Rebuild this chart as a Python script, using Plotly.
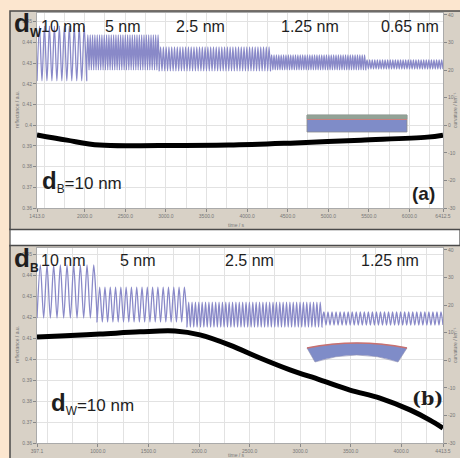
import numpy as np
import plotly.graph_objects as go

W, H = 460, 458
def fx(p): return p / W
def fy(p): return 1 - p / H

# ---------------- data: panel (a) ----------------
a_seg_labels = ["10 nm", "5 nm", "2.5 nm", "1.25 nm", "0.65 nm"]
a_seg_start = [1413.0, 2025.0, 2918.0, 4288.0, 5462.0]
a_seg_end = [2025.0, 2918.0, 4288.0, 5462.0, 6412.5]
a_seg_cycles = [10, 31, 40, 40, 30]
a_seg_top = [0.4479, 0.4436, 0.4378, 0.4339, 0.4315]
a_seg_bottom = [0.4214, 0.4267, 0.4262, 0.4267, 0.4271]

a_curv_time = [1413, 1780, 2184, 2918, 3774, 4593, 5401, 6220, 6412.5]
a_curv_val = [-3.5, -5.4, -7.2, -7.35, -7.2, -6.4, -5.4, -4.3, -3.6]

a_xtick_vals = [1413.0, 2000, 2500, 3000, 3500, 4000, 4500, 5000, 5500, 6000, 6412.5]
a_xtick_text = ["1413.0", "2000.0", "2500.0", "3000.0", "3500.0", "4000.0",
                "4500.0", "5000.0", "5500.0", "6000.0", "6412.5"]

# ---------------- data: panel (b) ----------------
b_seg_labels = ["10 nm", "5 nm", "2.5 nm", "1.25 nm"]
b_seg_start = [397.1, 991.0, 1881.0, 3216.0]
b_seg_end = [991.0, 1881.0, 3216.0, 4413.5]
b_seg_cycles = [9, 17, 40, 30]
b_seg_top = [0.4448, 0.4343, 0.4271, 0.4224]
b_seg_bottom = [0.4195, 0.4176, 0.4152, 0.4162]

b_curv_time = [397.1, 625, 1020, 1416, 1762, 2009, 2306, 2603, 2900, 3196, 3493, 3790, 4087, 4284, 4413.5]
b_curv_val = [8.4, 8.8, 9.5, 10.3, 10.6, 9.2, 5.5, 0.8, -3.5, -7.1, -10.8, -13.7, -18.0, -21.7, -24.6]

b_xtick_vals = [397.1, 1000, 1500, 2000, 2500, 3000, 3500, 4000, 4413.5]
b_xtick_text = ["397.1", "1000.0", "1500.0", "2000.0", "2500.0", "3000.0",
                "3500.0", "4000.0", "4413.5"]

# shared axis ticks
refl_tick_vals = [0.36, 0.37, 0.38, 0.39, 0.40, 0.41, 0.42, 0.43, 0.44, 0.45]
refl_tick_text = ["0.36", "0.37", "0.38", "0.39", "0.4", "0.41", "0.42", "0.43", "0.44", "0.45"]
curv_tick_vals = [-30, -20, -10, 0, 10, 20, 30, 40]
curv_tick_text = ["-30", "-20", "-10", "0", "10", "20", "30", "40"]


def oscillation(starts, ends, cycles, tops, bottoms):
    xs, ys = [], []
    for s, e, n, t, b in zip(starts, ends, cycles, tops, bottoms):
        seg_x = np.linspace(s, e, 2 * n + 1)
        for i, xv in enumerate(seg_x):
            xs.append(float(xv))
            ys.append(t if i % 2 == 1 else b)
    return xs, ys


ax_x, ax_y = oscillation(a_seg_start, a_seg_end, a_seg_cycles, a_seg_top, a_seg_bottom)
bx_x, bx_y = oscillation(b_seg_start, b_seg_end, b_seg_cycles, b_seg_top, b_seg_bottom)

BLUE = "#8989c8"
fig = go.Figure()
fig.add_trace(go.Scatter(x=ax_x, y=ax_y, mode="lines", xaxis="x", yaxis="y",
                         line=dict(color=BLUE, width=1.3, shape="spline", smoothing=0.8),
                         hoverinfo="skip", showlegend=False))
fig.add_trace(go.Scatter(x=a_curv_time, y=a_curv_val, mode="lines", xaxis="x", yaxis="y2",
                         line=dict(color="black", width=5, shape="spline"),
                         hoverinfo="skip", showlegend=False))
fig.add_trace(go.Scatter(x=bx_x, y=bx_y, mode="lines", xaxis="x2", yaxis="y3",
                         line=dict(color=BLUE, width=1.3, shape="spline", smoothing=0.8),
                         hoverinfo="skip", showlegend=False))
fig.add_trace(go.Scatter(x=b_curv_time, y=b_curv_val, mode="lines", xaxis="x2", yaxis="y4",
                         line=dict(color="black", width=5, shape="spline"),
                         hoverinfo="skip", showlegend=False))

GRID = "#e2e2e2"
TICKF = dict(size=5, color="#777", family="Liberation Sans")

def xax(domain, anchor, rng, vals, text):
    return dict(domain=domain, anchor=anchor, range=rng, tickmode="array",
                tickvals=vals, ticktext=text, tickfont=TICKF, ticks="outside",
                ticklen=3, tickcolor="#888", showgrid=True, gridcolor=GRID, gridwidth=1,
                minor=dict(tickmode="linear", tick0=0, dtick=250, showgrid=True,
                           gridcolor=GRID, ticks=""),
                showline=True, linecolor="#aaa", linewidth=1, mirror=True, zeroline=False,
                automargin=False)

def yax(domain, anchor, rng):
    return dict(domain=domain, anchor=anchor, range=rng, tickmode="array",
                tickvals=refl_tick_vals, ticktext=refl_tick_text, tickfont=TICKF,
                ticks="outside", ticklen=3, tickcolor="#888", showgrid=True,
                gridcolor=GRID, showline=True, linecolor="#aaa", mirror=True, zeroline=False,
                automargin=False)

def yax_r(overlay, anchor, rng):
    return dict(overlaying=overlay, anchor=anchor, side="right", range=rng,
                tickmode="array", tickvals=curv_tick_vals, ticktext=curv_tick_text,
                tickfont=TICKF, ticks="outside", ticklen=3, tickcolor="#888",
                showgrid=False, zeroline=False, automargin=False)

xdom = [fx(37), fx(443)]
fig.update_layout(
    width=W, height=H, margin=dict(l=0, r=0, t=0, b=0, pad=0), autosize=False,
    paper_bgcolor="#fce6cf", plot_bgcolor="white",
    xaxis=xax(xdom, "y", [1413.0, 6412.5], a_xtick_vals, a_xtick_text),
    yaxis=yax([fy(208), fy(13)], "x", [0.36, 0.4542]),
    yaxis2=yax_r("y", "x", [-30, 40.7]),
    xaxis2=xax(xdom, "y3", [397.1, 4413.5], b_xtick_vals, b_xtick_text),
    yaxis3=yax([fy(443), fy(248)], "x2", [0.36, 0.4529]),
    yaxis4=yax_r("y3", "x2", [-30, 40.7]),
)

STRIP = "#d8d1c6"
FRAME = "#4a4a4a"
def rect(x0, y0, x1, y1, fill, line=None, lw=0, layer="below"):
    return dict(type="rect", xref="paper", yref="paper", x0=fx(x0), x1=fx(x1),
                y0=fy(y1), y1=fy(y0), fillcolor=fill, layer=layer,
                line=dict(color=line or fill, width=lw))

shapes = [
    rect(10, 229, 460, 246, "white", FRAME, 1.2),
    rect(10, 11, 461, 229.5, STRIP, FRAME, 1.5),
    rect(10, 245.5, 461, 459, STRIP, FRAME, 1.5),
    rect(37, 13, 443, 208, "white"),
    rect(37, 248, 443, 443, "white"),
]
# inset (a): flat bilayer
shapes += [
    rect(307, 115, 407, 132, "#7f8cc8", "#8a8a8a", 0.8, layer="above"),
    rect(307, 115, 407, 119, "#93a296", "#8a9a8e", 0.5, layer="above"),
    dict(type="line", xref="paper", yref="paper", x0=fx(307), x1=fx(407),
         y0=fy(119.5), y1=fy(119.5), line=dict(color="#c98080", width=1), layer="above"),
]
# inset (b): bent bilayer
def P(x, y): return f"{fx(x):.5f},{fy(y):.5f}"
arc_path = (f"M {P(307,348)} Q {P(357,338)} {P(407,348)} L {P(398,362)} "
            f"Q {P(357,348)} {P(315,362)} Z")
shapes.append(dict(type="path", xref="paper", yref="paper", path=arc_path,
                   fillcolor="#7f8cc8", line=dict(color="#8f8fb0", width=0.6), layer="above"))
shapes.append(dict(type="path", xref="paper", yref="paper",
                   path=f"M {P(307,348)} Q {P(357,338)} {P(407,348)}",
                   line=dict(color="#c87070", width=1.6), layer="above"))
fig.update_layout(shapes=shapes)

NARROW = "Liberation Sans Narrow, Arial Narrow, Liberation Sans, sans-serif"
TXT = "#1e1e1e"
ann = []
def A(text, x, y, size, xanchor="center", yanchor="middle", family=NARROW, angle=0, color=TXT):
    ann.append(dict(text=text, x=fx(x), y=fy(y), xref="paper", yref="paper",
                    xanchor=xanchor, yanchor=yanchor, showarrow=False, textangle=angle,
                    font=dict(size=size, family=family, color=color)))

a_label_px = [63, 123, 200, 310, 410]
for lab, xp in zip(a_seg_labels, a_label_px):
    A(lab, xp, 26, 16)
b_label_px = [63, 138, 249, 390]
for lab, xp in zip(b_seg_labels, b_label_px):
    A(lab, xp, 260, 16)

# big corner symbols: d with subscript
A("<b>d</b><sub><b><span style='font-size:12px'>W</span></b></sub>", 12, 24, 26, xanchor="left")
A("<b>d</b><sub><b><span style='font-size:12px'>B</span></b></sub>", 12, 259, 26, xanchor="left")
A("<span style='font-size:24px'><b>d</b></span><sub>B</sub>=10 nm", 40, 182, 17, xanchor="left")
A("<span style='font-size:24px'><b>d</b></span><sub>W</sub>=10 nm", 49, 403, 17, xanchor="left")
A("<b>(a)</b>", 423, 193, 19)
A("<b>(b)</b>", 427, 398, 19, family="DejaVu Serif, serif")

SMALL = "Liberation Sans"
A("time / s", 236, 225, 5, family=SMALL, color="#777")
A("time / s", 236, 455, 5, family=SMALL, color="#777")
A("reflectance / a.u.", 17, 110, 5, family=SMALL, angle=-90, color="#777")
A("reflectance / a.u.", 17, 345, 5, family=SMALL, angle=-90, color="#777")
A("curvature / km⁻¹", 455, 110, 5, family=SMALL, angle=-90, color="#777")
A("curvature / km⁻¹", 455, 345, 5, family=SMALL, angle=-90, color="#777")
fig.update_layout(annotations=ann)

fig.write_html("out.html", config={"displayModeBar": False},
               post_script="document.body.style.margin='0';document.body.style.background='#fce6cf';")
